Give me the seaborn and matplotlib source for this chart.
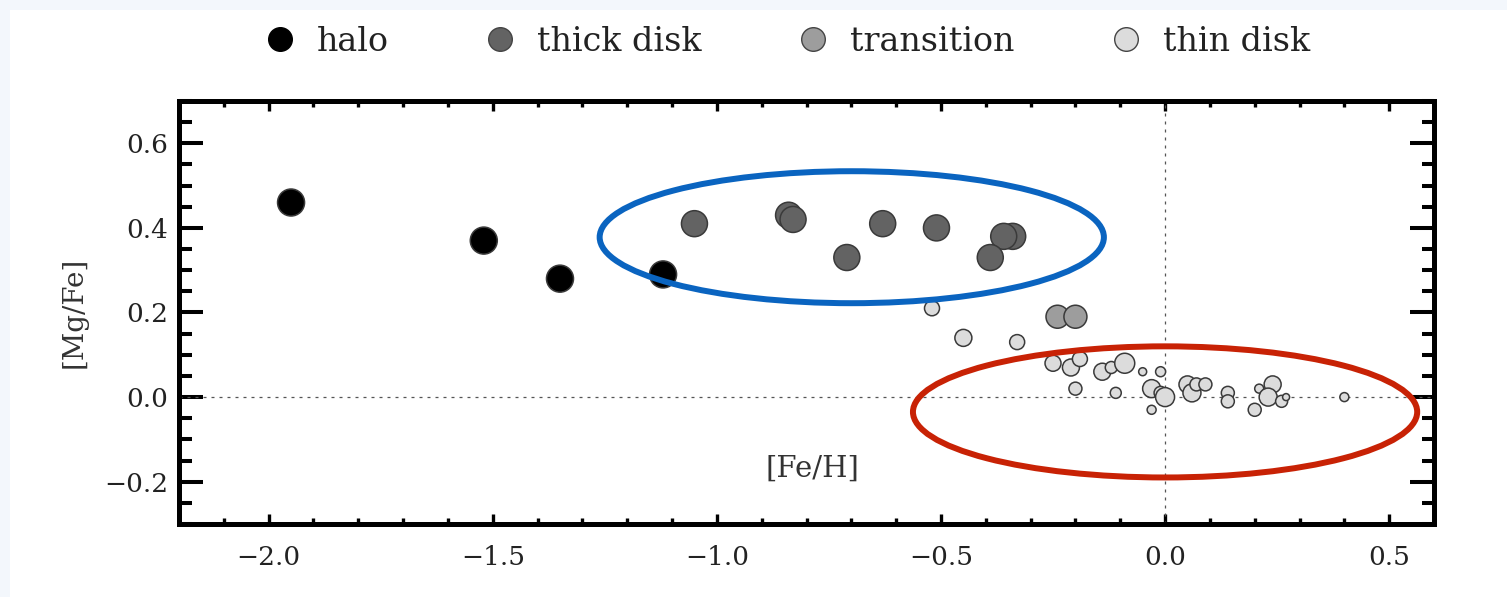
import numpy as np
import pandas as pd
import matplotlib
matplotlib.use("Agg")
import matplotlib.pyplot as plt
import seaborn as sns
from matplotlib.patches import Ellipse, Rectangle
from matplotlib.lines import Line2D
from matplotlib.ticker import MultipleLocator

# ---- data ----
halo_feh = [-1.95, -1.52, -1.35, -1.12]
halo_mgfe = [0.46, 0.37, 0.28, 0.29]

thick_feh = [-1.05, -0.84, -0.83, -0.71, -0.63, -0.51, -0.34, -0.36, -0.39]
thick_mgfe = [0.41, 0.43, 0.42, 0.33, 0.41, 0.40, 0.38, 0.38, 0.33]

trans_feh = [-0.24, -0.20]
trans_mgfe = [0.19, 0.19]

thin_feh = [-0.52, -0.45, -0.33, -0.25, -0.21, -0.19, -0.20, -0.14, -0.12, -0.09,
            -0.11, -0.05, -0.01, -0.03, -0.01, 0.00, -0.03, 0.05, 0.06, 0.07,
            0.09, 0.14, 0.14, 0.20, 0.21, 0.24, 0.23, 0.26, 0.27, 0.40]
thin_mgfe = [0.21, 0.14, 0.13, 0.08, 0.07, 0.09, 0.02, 0.06, 0.07, 0.08,
             0.01, 0.06, 0.06, 0.02, 0.01, 0.00, -0.03, 0.03, 0.01, 0.03,
             0.03, 0.01, -0.01, -0.03, 0.02, 0.03, 0.00, -0.01, 0.00, 0.00]
# relative symbol size of each thin-disk star
thin_weight = [15, 17, 15, 16, 17, 15, 13, 17, 12, 20,
               11, 8, 10, 18, 13, 19, 9, 17, 18, 13,
               13, 13, 13, 13, 9, 17, 18, 12, 7, 9]

groups = ["halo", "thick disk", "transition", "thin disk"]
colors = {"halo": "#000000", "thick disk": "#636363",
          "transition": "#9d9d9d", "thin disk": "#dcdcdc"}

def area(d_px):
    return (d_px * 0.72) ** 2

rows = []
for x, y, w in zip(thin_feh, thin_mgfe, thin_weight):
    rows.append([x, y, "thin disk", area(w)])
for x, y in zip(trans_feh, trans_mgfe):
    rows.append([x, y, "transition", area(23)])
for x, y in zip(thick_feh, thick_mgfe):
    rows.append([x, y, "thick disk", area(26)])
for x, y in zip(halo_feh, halo_mgfe):
    rows.append([x, y, "halo", area(27)])
df = pd.DataFrame(rows, columns=["feh", "mgfe", "pop", "area"])

sns.set_style("ticks")
plt.rcParams["font.family"] = ["DejaVu Serif"]

fig = plt.figure(figsize=(15.07, 5.97), dpi=100)
fig.patch.set_facecolor("#f3f7fc")
fig.add_artist(Rectangle((10 / 1507, 0), 1, 1 - 10 / 597, transform=fig.transFigure,
                         facecolor="white", edgecolor="none", zorder=0))
ax = fig.add_axes([0.11878, 0.12228, 0.83278, 0.70854])

amin, amax = df["area"].min(), df["area"].max()
sns.scatterplot(data=df, x="feh", y="mgfe", hue="pop", palette=colors,
                size="area", sizes=(amin, amax), size_norm=(amin, amax),
                edgecolor="#3a3a3a", linewidth=1.1, legend=False, ax=ax, zorder=3)

# reference lines
ax.axhline(0, color="#555555", lw=0.9, ls=(0, (2.4, 4)), zorder=1)
ax.axvline(0, color="#555555", lw=0.9, ls=(0, (2.4, 4)), zorder=1)

# highlighted regions
ax.add_patch(Ellipse((-0.699, 0.378), 1.125, 0.312, fill=False,
                     edgecolor="#0a64c0", lw=4.3, zorder=5))
ax.add_patch(Ellipse((0.0, -0.035), 1.125, 0.310, fill=False,
                     edgecolor="#c82205", lw=4.3, zorder=5))

ax.set_xlim(-2.2, 0.6)
ax.set_ylim(-0.3, 0.7)
ax.xaxis.set_major_locator(MultipleLocator(0.5))
ax.xaxis.set_minor_locator(MultipleLocator(0.1))
ax.yaxis.set_major_locator(MultipleLocator(0.2))
ax.yaxis.set_minor_locator(MultipleLocator(0.05))
ax.set_xticks([-2.0, -1.5, -1.0, -0.5, 0.0, 0.5])
ax.set_xticklabels(["\u22122.0", "\u22121.5", "\u22121.0", "\u22120.5", "0.0", "0.5"])
ax.set_yticks([-0.2, 0.0, 0.2, 0.4, 0.6])
ax.set_yticklabels(["\u22120.2", "0.0", "0.2", "0.4", "0.6"])

for s in ax.spines.values():
    s.set_linewidth(3.6)
    s.set_color("black")
ax.tick_params(axis="both", which="both", direction="in", top=True, right=True,
               colors="black", labelcolor="#222222", labelsize=19)
ax.tick_params(axis="y", which="major", length=17.5, width=2.9, pad=8)
ax.tick_params(axis="y", which="minor", length=9, width=2.9)
ax.tick_params(axis="x", which="major", length=7, width=2.4, pad=15)
ax.tick_params(axis="x", which="minor", length=4.5, width=2.4)

ax.set_xlabel("[Fe/H]", fontsize=21, color="#333333", va="top")
ax.xaxis.set_label_coords(0.505, 0.165)
ax.set_ylabel("[Mg/Fe]", fontsize=20, color="#333333")
ax.yaxis.set_label_coords(-0.0725, 0.501)

handles = [Line2D([], [], marker="o", ls="", markersize=17,
                  markerfacecolor=colors[g],
                  markeredgecolor="#000000" if g == "halo" else "#444444",
                  markeredgewidth=1.0, label=g) for g in groups]
fig.legend(handles=handles, loc="center", bbox_to_anchor=(0.522, 0.93), ncol=4,
           frameon=False, fontsize=24, handlelength=1.0, handletextpad=0.6,
           columnspacing=2.85, labelcolor="#222222")

fig.savefig("out.png", dpi=100, facecolor=fig.get_facecolor())
